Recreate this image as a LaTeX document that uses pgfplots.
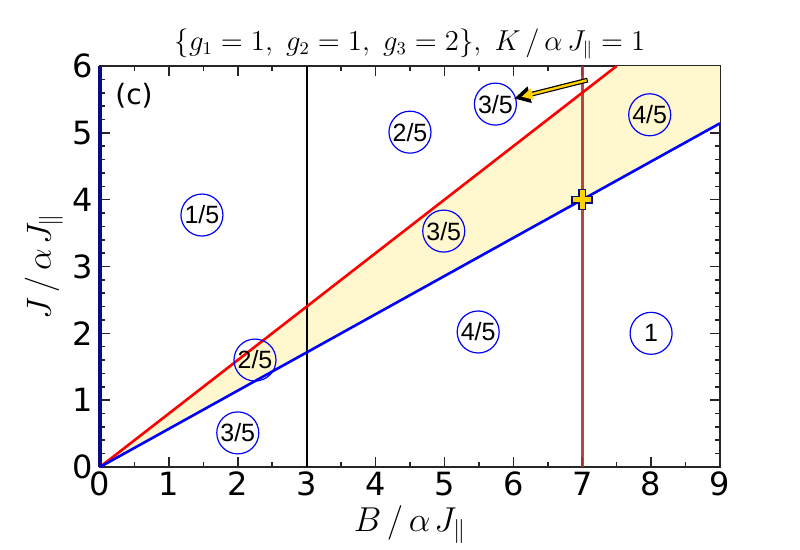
\documentclass[border=0pt]{standalone}
\usepackage{fontspec}
\setmainfont{DejaVu Sans}
\newfontfamily\arialf{Liberation Sans}
\usepackage{pgfplots}
\pgfplotsset{compat=1.18}
\usetikzlibrary{arrows.meta}
\definecolor{lyellow}{RGB}{255,248,206}
\definecolor{brownred}{RGB}{178,50,50}
\definecolor{navyb}{RGB}{10,10,130}
\definecolor{gold}{RGB}{255,210,0}
\pgfdeclareplotmark{fcross}{%
  \pgfpathmoveto{\pgfqpoint{-0.33\pgfplotmarksize}{\pgfplotmarksize}}%
  \pgfpathlineto{\pgfqpoint{0.33\pgfplotmarksize}{\pgfplotmarksize}}%
  \pgfpathlineto{\pgfqpoint{0.33\pgfplotmarksize}{0.33\pgfplotmarksize}}%
  \pgfpathlineto{\pgfqpoint{\pgfplotmarksize}{0.33\pgfplotmarksize}}%
  \pgfpathlineto{\pgfqpoint{\pgfplotmarksize}{-0.33\pgfplotmarksize}}%
  \pgfpathlineto{\pgfqpoint{0.33\pgfplotmarksize}{-0.33\pgfplotmarksize}}%
  \pgfpathlineto{\pgfqpoint{0.33\pgfplotmarksize}{-\pgfplotmarksize}}%
  \pgfpathlineto{\pgfqpoint{-0.33\pgfplotmarksize}{-\pgfplotmarksize}}%
  \pgfpathlineto{\pgfqpoint{-0.33\pgfplotmarksize}{-0.33\pgfplotmarksize}}%
  \pgfpathlineto{\pgfqpoint{-\pgfplotmarksize}{-0.33\pgfplotmarksize}}%
  \pgfpathlineto{\pgfqpoint{-\pgfplotmarksize}{0.33\pgfplotmarksize}}%
  \pgfpathlineto{\pgfqpoint{-0.33\pgfplotmarksize}{0.33\pgfplotmarksize}}%
  \pgfpathclose
  \pgfusepathqfillstroke}
\begin{document}
\begin{tikzpicture}
\useasboundingbox (0,0) rectangle (400pt,275pt);
\begin{axis}[
  at={(50pt,41.5pt)}, anchor=south west,
  scale only axis, width=310pt, height=200.5pt,
  xmin=0, xmax=9, ymin=0, ymax=6,
  xtick={0,...,9}, ytick={0,...,6},
  minor x tick num=1, minor y tick num=4,
  tick align=inside, major tick length=5pt, minor tick length=2.5pt,
  axis line style={line width=1pt, black!85},
  tick style={line width=0.8pt, black!85},
  ticklabel style={font=\fontsize{16}{18}\selectfont},
  xticklabel style={yshift=1pt},
  /pgf/number format/assume math mode=true,
  clip=false,
  title={$\{g_1=1,\ g_2=1,\ g_3=2\},\ K\,/\,\alpha\,J_{\parallel}=1$},
  title style={font=\fontsize{13.5}{16}\selectfont, yshift=-6pt},
  xlabel={$B\,/\,\alpha\mkern2mu J_{\parallel}$},
  ylabel={$J\,/\,\alpha\mkern2mu J_{\parallel}$},
  label style={font=\fontsize{17.5}{20}\selectfont},
  xlabel style={yshift=2pt},
  ylabel style={yshift=-2pt},
]
\addplot[fill=lyellow, draw=none] coordinates {(0,0) (7.5,6) (9,6) (9,5.142857)} -- cycle;
\addplot[black, line width=1.1pt] coordinates {(3,0) (3,6)};
\addplot[brownred, line width=1.4pt, opacity=0.9] coordinates {(7,0) (7,6)};
\addplot[red, line width=1.3pt] coordinates {(0,0) (7.5,6)};
\addplot[blue, line width=1.3pt] coordinates {(0,0) (9,5.142857)};
\addplot[navyb, line width=1.6pt] coordinates {(0,0) (0,6)};
\addplot[only marks, mark=o, mark size=10.5pt, blue, mark options={line width=0.6pt},
  nodes near coords, point meta=explicit symbolic,
  every node near coord/.append style={anchor=center, black, font=\arialf\fontsize{12.5}{14}\selectfont}]
  table[meta=lab] {
x y lab
1.48 3.77 1/5
4.50 5.01 2/5
5.74 5.43 3/5
7.98 5.27 4/5
4.99 3.53 3/5
2.25 1.60 2/5
2.00 0.51 3/5
5.49 2.02 4/5
8.00 2.00 1
};
\addplot[black, line width=2.4pt, -{Triangle[length=8pt, width=8pt]}, shorten >=-1pt] coordinates {(7.08,5.79) (6.04,5.52)};
\addplot[gold, line width=1.2pt, -{Triangle[length=5.5pt, width=5.5pt]}] coordinates {(7.065,5.786) (6.12,5.54)};
\addplot[only marks, mark=fcross, mark size=5pt, mark options={fill=gold, draw=navyb, line width=0.8pt}] coordinates {(7,4)};
\node[anchor=west, font=\fontsize{14}{16}\selectfont] at (axis cs:0.12,5.55) {(c)};
\end{axis}
\end{tikzpicture}
\end{document}
